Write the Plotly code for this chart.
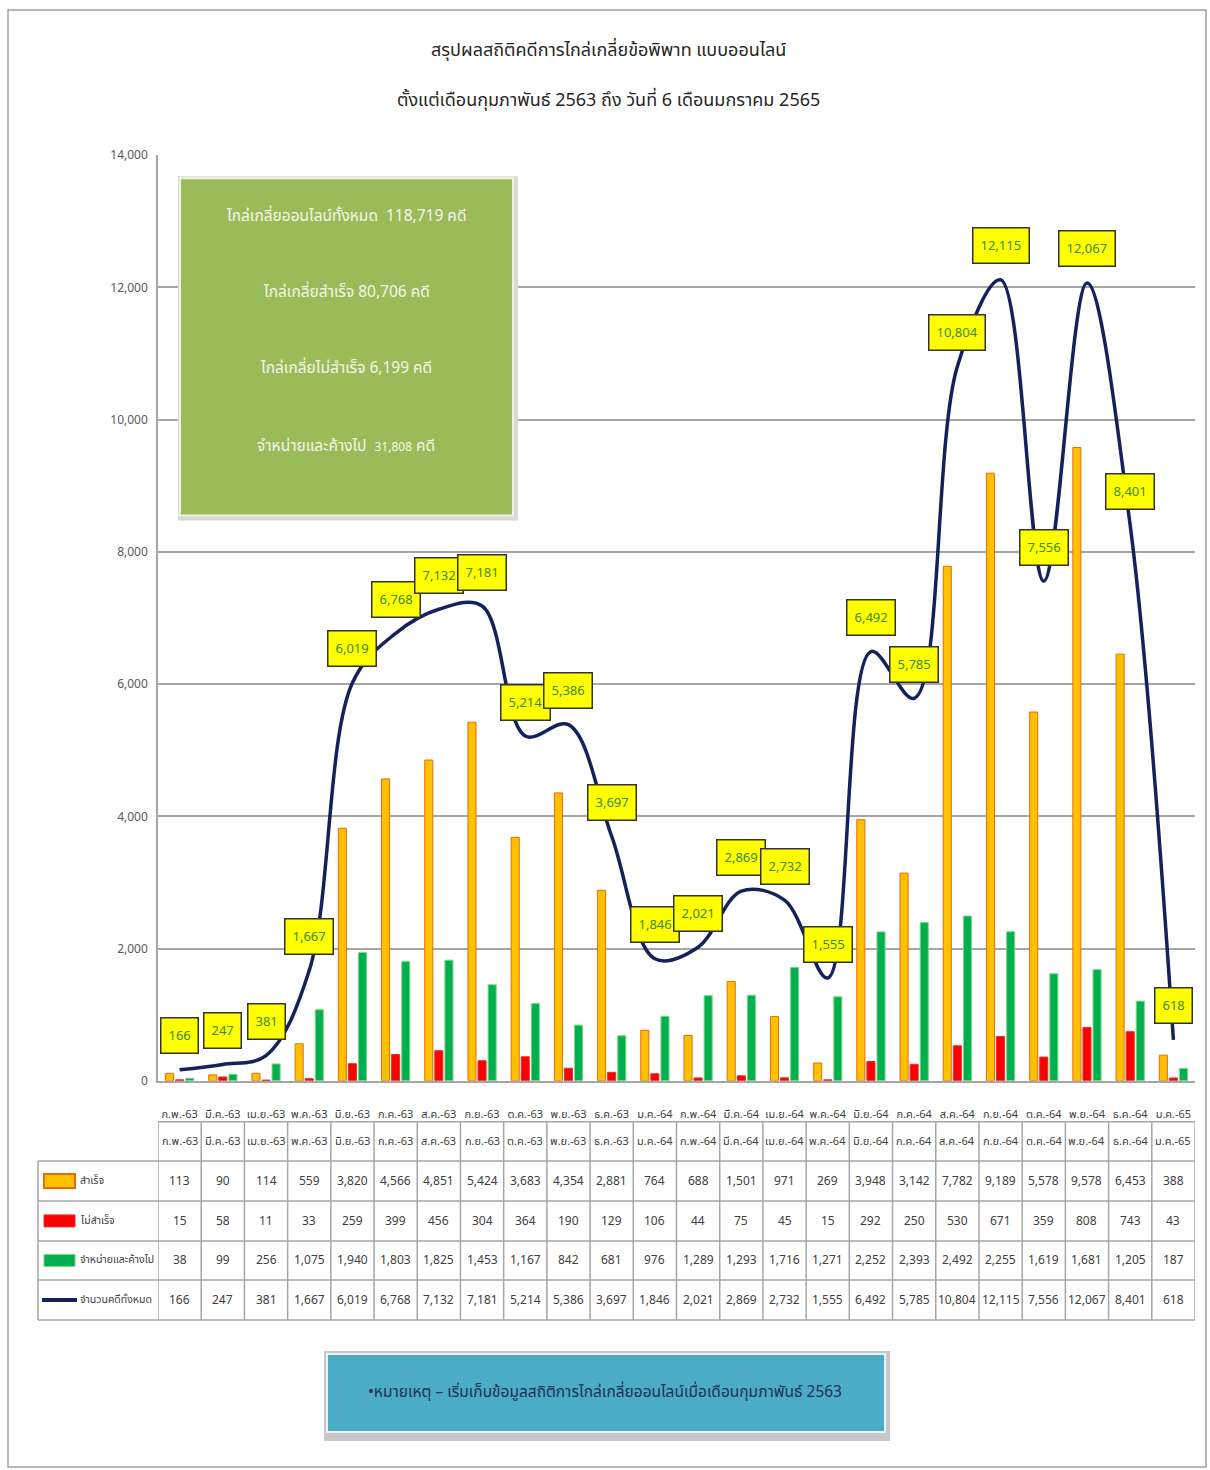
import plotly.graph_objects as go

W, H = 1210, 1470

months = ["ก.พ.-63", "มี.ค.-63", "เม.ย.-63", "พ.ค.-63", "มิ.ย.-63", "ก.ค.-63", "ส.ค.-63", "ก.ย.-63",
          "ต.ค.-63", "พ.ย.-63", "ธ.ค.-63", "ม.ค.-64", "ก.พ.-64", "มี.ค.-64", "เม.ย.-64", "พ.ค.-64",
          "มิ.ย.-64", "ก.ค.-64", "ส.ค.-64", "ก.ย.-64", "ต.ค.-64", "พ.ย.-64", "ธ.ค.-64", "ม.ค.-65"]
success = [113, 90, 114, 559, 3820, 4566, 4851, 5424, 3683, 4354, 2881, 764, 688, 1501, 971, 269,
           3948, 3142, 7782, 9189, 5578, 9578, 6453, 388]
failed = [15, 58, 11, 33, 259, 399, 456, 304, 364, 190, 129, 106, 44, 75, 45, 15,
          292, 250, 530, 671, 359, 808, 743, 43]
disposed = [38, 99, 256, 1075, 1940, 1803, 1825, 1453, 1167, 842, 681, 976, 1289, 1293, 1716, 1271,
            2252, 2393, 2492, 2255, 1619, 1681, 1205, 187]
total = [166, 247, 381, 1667, 6019, 6768, 7132, 7181, 5214, 5386, 3697, 1846, 2021, 2869, 2732, 1555,
         6492, 5785, 10804, 12115, 7556, 12067, 8401, 618]

series_names = ["สำเร็จ", "ไม่สำเร็จ", "จำหน่ายและค้างไป", "จำนวนคดีทั้งหมด"]
title_lines = ["สรุปผลสถิติคดีการไกล่เกลี่ยข้อพิพาท แบบออนไลน์",
               "ตั้งแต่เดือนกุมภาพันธ์ 2563 ถึง วันที่ 6 เดือนมกราคม 2565"]
box_lines = ["ไกล่เกลี่ยออนไลน์ทั้งหมด  118,719 คดี", "ไกล่เกลี่ยสำเร็จ 80,706 คดี",
             "ไกล่เกลี่ยไม่สำเร็จ 6,199 คดี",
             "จำหน่ายและค้างไป  <span style='font-size:12px'>31,808</span> คดี"]
note_text = "•หมายเหตุ – เริ่มเก็บข้อมูลสถิติการไกล่เกลี่ยออนไลน์เมื่อเดือนกุมภาพันธ์ 2563"

FONT = "Noto Sans Thai, Noto Sans, Tahoma, sans-serif"

def py(p):
    q = max((p - 9) / 0.987, 1)
    return 1 - q / H

def px(p):
    return p / W

x_idx = list(range(len(months)))

fig = go.Figure()
fig.add_trace(go.Bar(x=x_idx, y=success, name=series_names[0], marker=dict(color="#FFC000", line=dict(color="#E46C0A", width=1))))
fig.add_trace(go.Bar(x=x_idx, y=failed, name=series_names[1], marker=dict(color="#FF0000", line=dict(color="#E03030", width=1))))
fig.add_trace(go.Bar(x=x_idx, y=disposed, name=series_names[2], marker=dict(color="#00B050", line=dict(color="#7DD87D", width=1))))
fig.add_trace(go.Scatter(x=x_idx, y=total, name=series_names[3], mode="lines",
                         line=dict(color="#14215A", width=3.5, shape="spline", smoothing=1.0)))

annotations = []
shapes = []

def pann(x, y, text, size, color, **kw):
    d = dict(x=px(x), y=py(y), xref="paper", yref="paper", text=text, showarrow=False,
             xanchor="center", yanchor="middle", font=dict(size=size, color=color, family=FONT))
    d.update(kw)
    annotations.append(d)

# title
for k, t in enumerate(title_lines):
    pann(608, 50 + 50 * k, t, 18, "#262626")

# data labels on total
for i, v in enumerate(total):
    annotations.append(dict(x=i, y=v, xref="x", yref="y", text=f"{v:,}", showarrow=False, yshift=34,
                            xanchor="center", yanchor="middle",
                            bgcolor="#FFFF00", bordercolor="#333333", borderwidth=1.5, borderpad=7,
                            font=dict(size=13, color="#3A8A2A", family=FONT)))

# outer frame
shapes.append(dict(type="rect", xref="paper", yref="paper", x0=px(8), x1=px(1206), y0=py(1466), y1=py(4),
                   line=dict(color="#A0A0A0", width=1.5), fillcolor="rgba(0,0,0,0)", layer="below"))

# green summary box with shadow
shapes.append(dict(type="rect", xref="paper", yref="paper", x0=px(178), x1=px(518), y0=py(520), y1=py(176),
                   line=dict(width=0), fillcolor="#D9D9D9", layer="above"))
shapes.append(dict(type="rect", xref="paper", yref="paper", x0=px(180), x1=px(513), y0=py(515), y1=py(178),
                   line=dict(color="#EEF3E0", width=2), fillcolor="#9BBB59", layer="above"))
for k, t in enumerate(box_lines):
    pann(346, [216, 292, 368, 446][k], t, 15.5, "#F4F6EA")

# table
top_head, rows_y = 1121, [1160, 1200, 1240, 1279, 1319]
line_col = "#A6A6A6"
shapes.append(dict(type="line", xref="x", yref="paper", x0=-0.5, x1=len(months) - 0.5, y0=py(top_head), y1=py(top_head),
                   line=dict(color=line_col, width=1.5)))
for yy in rows_y:
    shapes.append(dict(type="line", xref="paper", yref="paper", x0=px(38), x1=px(1195), y0=py(yy), y1=py(yy),
                       line=dict(color=line_col, width=1.5)))
for j in range(len(months) + 1):
    shapes.append(dict(type="line", xref="x", yref="paper", x0=j - 0.5, x1=j - 0.5, y0=py(rows_y[-1]), y1=py(top_head),
                       line=dict(color=line_col, width=1.5)))
shapes.append(dict(type="line", xref="paper", yref="paper", x0=px(38), x1=px(38), y0=py(rows_y[-1]), y1=py(rows_y[0]),
                   line=dict(color=line_col, width=1.5)))

for i, m in enumerate(months):
    annotations.append(dict(x=i, y=py((top_head + rows_y[0]) / 2), xref="x", yref="paper", text=m,
                            xanchor="center", yanchor="middle",
                            showarrow=False, font=dict(size=11, color="#404040", family=FONT)))
for r, vals in enumerate([success, failed, disposed, total]):
    ycp = (rows_y[r] + rows_y[r + 1]) / 2
    for i, v in enumerate(vals):
        annotations.append(dict(x=i, y=py(ycp), xref="x", yref="paper", text=f"{v:,}", showarrow=False,
                                xanchor="center", yanchor="middle",
                                font=dict(size=12, color="#404040", family=FONT)))
    pann(78, ycp, series_names[r], 10.5, "#404040", xanchor="left")

# legend swatches in table
sw_y = [(rows_y[r] + rows_y[r + 1]) / 2 for r in range(4)]
shapes.append(dict(type="rect", xref="paper", yref="paper", x0=px(44), x1=px(75), y0=py(sw_y[0] + 7), y1=py(sw_y[0] - 7),
                   fillcolor="#FFC000", line=dict(color="#E46C0A", width=2)))
shapes.append(dict(type="rect", xref="paper", yref="paper", x0=px(44), x1=px(75), y0=py(sw_y[1] + 6), y1=py(sw_y[1] - 6),
                   fillcolor="#FF0000", line=dict(color="#E03030", width=1)))
shapes.append(dict(type="rect", xref="paper", yref="paper", x0=px(44), x1=px(75), y0=py(sw_y[2] + 6), y1=py(sw_y[2] - 6),
                   fillcolor="#00B050", line=dict(color="#7DD87D", width=1)))
shapes.append(dict(type="line", xref="paper", yref="paper", x0=px(42), x1=px(77), y0=py(sw_y[3]), y1=py(sw_y[3]),
                   line=dict(color="#14215A", width=4)))

# note box
shapes.append(dict(type="rect", xref="paper", yref="paper", x0=px(324), x1=px(890), y0=py(1440), y1=py(1350),
                   line=dict(width=0), fillcolor="#C8C8C8"))
shapes.append(dict(type="rect", xref="paper", yref="paper", x0=px(327), x1=px(885), y0=py(1431), y1=py(1353),
                   line=dict(color="#EAF4F8", width=2), fillcolor="#4BACC6"))
pann(605, 1391, note_text, 15.5, "#1F3050")

fig.update_layout(
    width=W, height=H, margin=dict(l=0, r=0, t=0, b=0),
    paper_bgcolor="white", plot_bgcolor="white",
    barmode="group", bargap=0.3, bargroupgap=0.2,
    showlegend=False,
    font=dict(family=FONT),
    xaxis=dict(domain=[px(158), px(1195)], range=[-0.5, len(months) - 0.5],
               tickmode="array", tickvals=x_idx, ticktext=months, showgrid=False,
               tickfont=dict(size=11, color="#404040", family=FONT), ticks="", ticklabelstandoff=22,
               showline=True, linecolor="#A6A6A6", linewidth=1.5, zeroline=False),
    yaxis=dict(domain=[py(1080), py(155)], range=[0, 14000], tickvals=list(range(0, 14001, 2000)),
               tickformat=",", showgrid=True, gridcolor="#A6A6A6", gridwidth=2,
               tickfont=dict(size=12, color="#595959", family=FONT), ticks="",
               showline=True, linecolor="#A6A6A6", linewidth=1.5, zeroline=False, ticklabelstandoff=6),
    annotations=annotations, shapes=shapes,
)

fig.write_html("out.html")
